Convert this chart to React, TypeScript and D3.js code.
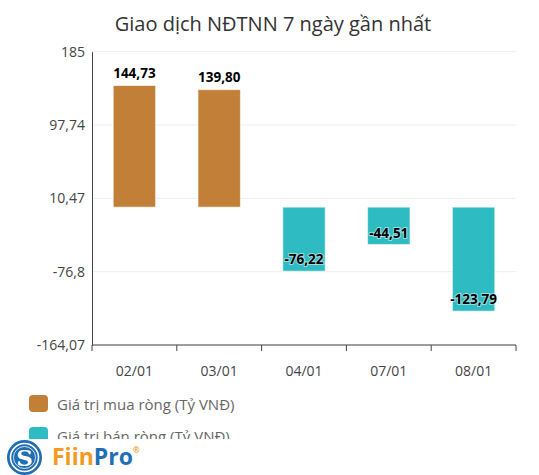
import { useEffect, useRef } from "react";
import * as d3 from "d3";

// ngày giao dịch + giá trị ròng (tỷ VNĐ)
const dates = ["02/01", "03/01", "04/01", "07/01", "08/01"];
const netValues = [144.73, 139.8, -76.22, -44.51, -123.79];
const yTicks = [185, 97.74, 10.47, -76.8, -164.07];
const legendLabels = ["Giá trị mua ròng (Tỷ VNĐ)", "Giá trị bán ròng (Tỷ VNĐ)"];

const W = 539;
const H = 475;
const BUY = "#c17f37";
const SELL = "#2ebcc2";
const FONT = "'Open Sans', 'Noto Sans', sans-serif";

const vn = (v: number, digits?: number) =>
  (digits === undefined ? String(v) : v.toFixed(digits)).replace(".", ",");

export default function App() {
  const ref = useRef<SVGSVGElement | null>(null);

  useEffect(() => {
    const svg = d3.select(ref.current);
    svg.selectAll("*").remove();

    const x = d3.scaleBand().domain(dates).range([92, 516]).paddingInner(0.5).paddingOuter(0.25);
    const y = d3.scaleLinear().domain([-164.07, 185]).range([345, 51.7]);

    // title
    svg
      .append("text")
      .attr("x", 273)
      .attr("y", 31)
      .attr("text-anchor", "middle")
      .style("font", `20px ${FONT}`)
      .attr("fill", "#333")
      .text("Giao dịch NĐTNN 7 ngày gần nhất");

    // grid lines
    svg
      .append("g")
      .selectAll("line")
      .data(yTicks)
      .join("line")
      .attr("x1", 92)
      .attr("x2", 516)
      .attr("y1", (d) => y(d))
      .attr("y2", (d) => y(d))
      .attr("stroke", "#eeeeee");

    // y axis
    const yAxis = svg
      .append("g")
      .attr("transform", "translate(92,0)")
      .call(d3.axisLeft(y).tickValues(yTicks).tickSize(0).tickPadding(7).tickFormat((d) => vn(d as number)));
    yAxis.select(".domain").attr("stroke", "#444");
    yAxis.selectAll("text").style("font", `14px ${FONT}`).attr("fill", "#444");

    // x axis (ticks at band edges)
    const xAxis = svg.append("g").attr("transform", `translate(0,${y(-164.07)})`);
    xAxis.append("line").attr("x1", 92).attr("x2", 516).attr("stroke", "#444");
    const edges = [92, ...dates.map((d) => (x(d) as number) + x.bandwidth() + x.step() * 0.25)];
    xAxis
      .selectAll("line.tk")
      .data(edges)
      .join("line")
      .attr("class", "tk")
      .attr("x1", (d) => d)
      .attr("x2", (d) => d)
      .attr("y1", 0)
      .attr("y2", 6)
      .attr("stroke", "#444");
    xAxis
      .selectAll("text")
      .data(dates)
      .join("text")
      .attr("x", (d) => (x(d) as number) + x.bandwidth() / 2)
      .attr("y", 31)
      .attr("text-anchor", "middle")
      .style("font", `500 14px ${FONT}`)
      .attr("fill", "#444")
      .text((d) => d);

    // bars
    svg
      .append("g")
      .selectAll("rect")
      .data(netValues)
      .join("rect")
      .attr("x", (_, i) => x(dates[i]) as number)
      .attr("width", x.bandwidth())
      .attr("y", (d) => y(Math.max(0, d)))
      .attr("height", (d) => Math.abs(y(d) - y(0)))
      .attr("fill", (d) => (d >= 0 ? BUY : SELL))
      .attr("stroke", "#ffffff")
      .attr("stroke-opacity", 0.6);

    // value labels
    svg
      .append("g")
      .selectAll("text")
      .data(netValues)
      .join("text")
      .attr("x", (_, i) => (x(dates[i]) as number) + x.bandwidth() / 2)
      .attr("y", (d) => (d >= 0 ? y(d) - 8 : y(d) - 7))
      .attr("text-anchor", "middle")
      .style("font", `bold 13.5px ${FONT}`)
      .attr("fill", "#000")
      .attr("stroke", "#fff")
      .attr("stroke-width", 2)
      .attr("stroke-opacity", 0.5)
      .attr("paint-order", "stroke")
      .text((d) => vn(d, 2));

    // legend
    const lg = svg
      .append("g")
      .selectAll("g")
      .data(legendLabels)
      .join("g")
      .attr("transform", (_, i) => `translate(29,${395 + i * 32})`);
    lg.append("rect")
      .attr("width", 19)
      .attr("height", 17)
      .attr("rx", 4)
      .attr("fill", (_, i) => (i === 0 ? BUY : SELL));
    lg.append("text")
      .attr("x", 28)
      .attr("y", 15)
      .style("font", `15px ${FONT}`)
      .attr("fill", "#666")
      .text((d) => d);

    // crop of chart area
    svg.append("rect").attr("x", 0).attr("y", 439).attr("width", W).attr("height", H - 439).attr("fill", "#fff");

    // FiinPro logo
    const logo = svg.append("g").attr("transform", "translate(24.5,457.5)");
    logo.append("circle").attr("r", 17.5).attr("fill", "#1f6db3");
    logo.append("circle").attr("r", 14).attr("fill", "none").attr("stroke", "#fff").attr("stroke-width", 1.6);
    logo.append("circle").attr("r", 11).attr("fill", "none").attr("stroke", "#fff").attr("stroke-width", 0.8);
    logo
      .append("text")
      .attr("y", 8)
      .attr("text-anchor", "middle")
      .style("font", "bold 23px 'DejaVu Serif', serif")
      .attr("fill", "#fff")
      .text("S");
    const brand = svg
      .append("text")
      .attr("x", 52)
      .attr("y", 465)
      .style("font", `bold 23px ${FONT}`);
    brand.append("tspan").attr("fill", "#f39a21").text("Fiin");
    brand.append("tspan").attr("fill", "#1f6fb6").text("Pro");
    brand.append("tspan").attr("fill", "#f39a21").attr("font-size", 8).attr("dy", -12).text("®");
  }, []);

  return (
    <svg
      ref={ref}
      width={W}
      height={H}
      style={{ position: "absolute", left: 0, top: 0, background: "#fff" }}
    />
  );
}
